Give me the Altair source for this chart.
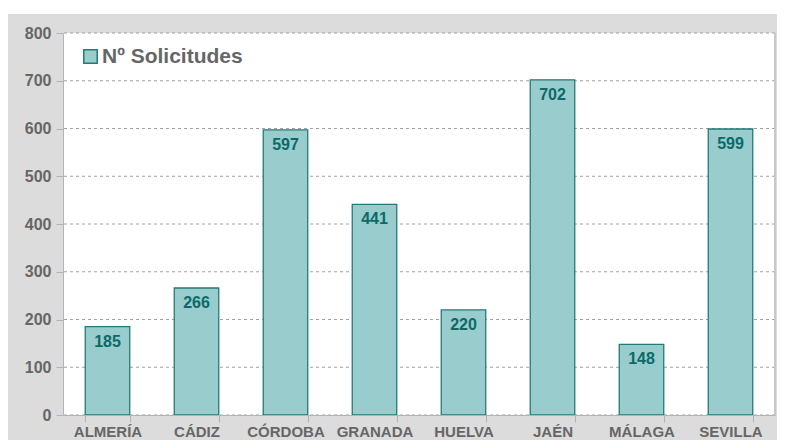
import altair as alt
import pandas as pd

provinces = ["ALMERÍA", "CÁDIZ", "CÓRDOBA", "GRANADA", "HUELVA", "JAÉN", "MÁLAGA", "SEVILLA"]
values = [185, 266, 597, 441, 220, 702, 148, 599]
series_name = "Nº Solicitudes"
y_ticks = [0, 100, 200, 300, 400, 500, 600, 700, 800]

W, H = 712, 382
PAD_L, PAD_T, PAD_R, PAD_B = 55, 25, 2, 25
FONT = "Liberation Sans"
BAR_FILL = "#99cccc"
BAR_STROKE = "#237a77"
LABEL_GRAY = "#666666"

df = pd.DataFrame({"provincia": provinces, "solicitudes": values,
                   "serie": [series_name] * len(provinces)})
grid_df = pd.DataFrame({"v": y_ticks})
one = alt.Data(values=[{"a": 1}])

yscale = alt.Scale(domain=[0, 800], nice=False)
xscale = alt.Scale(paddingInner=0.5, paddingOuter=0.25)

bg = alt.Chart(one).mark_rect(color="#dcdcdc").encode(
    x=alt.value(-PAD_L), x2=alt.value(W + PAD_R), y=alt.value(-19), y2=alt.value(H + PAD_B))
panel = alt.Chart(one).mark_rect(color="white").encode(
    x=alt.value(0), x2=alt.value(W), y=alt.value(0), y2=alt.value(H))
right_edge = alt.Chart(one).mark_rule(color="#c8c8c8", strokeWidth=2).encode(
    x=alt.value(W), y=alt.value(0), y2=alt.value(H))

grid = alt.Chart(grid_df).mark_rule(color="#a0a0a0", strokeDash=[3, 3], strokeWidth=1).encode(
    y=alt.Y("v:Q", scale=yscale, title=None))

x_enc = alt.X("provincia:N", sort=provinces, scale=xscale, title=None,
              axis=alt.Axis(labelAngle=0, labelFontSize=15, labelFontWeight="bold",
                            labelColor=LABEL_GRAY, labelFont=FONT, tickBand="extent",
                            tickSize=7, tickColor="#b3b3b3", domainColor="#b3b3b3",
                            labelPadding=2, labelOverlap=False, labelLimit=200,
                            grid=False, zindex=1))
y_enc = alt.Y("solicitudes:Q", scale=yscale, title=None,
              axis=alt.Axis(values=y_ticks, labelFontSize=16, labelFontWeight="bold",
                            labelColor=LABEL_GRAY, labelFont=FONT, tickSize=7,
                            tickColor="#b3b3b3", domainColor="#b3b3b3", labelPadding=5,
                            grid=False, zindex=1))

bars = alt.Chart(df).mark_bar(stroke=BAR_STROKE, strokeWidth=1.3).encode(
    x=x_enc, y=y_enc,
    color=alt.Color("serie:N", scale=alt.Scale(range=[BAR_FILL]), title=None,
                    legend=alt.Legend(orient="none", legendX=17, legendY=13,
                                      symbolType="square", symbolSize=180,
                                      symbolStrokeColor=BAR_STROKE, symbolStrokeWidth=1.5,
                                      symbolFillColor=BAR_FILL, symbolOpacity=1,
                                      labelFontSize=21, labelFontWeight="bold",
                                      labelColor=LABEL_GRAY, labelFont=FONT,
                                      labelOffset=1, padding=0, zindex=1)))

texts = alt.Chart(df).mark_text(baseline="top", dy=7, fontSize=16, fontWeight="bold",
                                color="#0b6a69", font=FONT).encode(
    x=alt.X("provincia:N", sort=provinces, scale=xscale),
    y=alt.Y("solicitudes:Q", scale=yscale),
    text=alt.Text("solicitudes:Q"))

chart = alt.layer(bg, panel, grid, right_edge, bars, texts).properties(
    width=W, height=H,
    autosize=alt.AutoSizeParams(type="none"),
    padding={"left": PAD_L, "top": PAD_T, "right": PAD_R, "bottom": PAD_B},
    background="white",
).configure_view(stroke=None).configure(font=FONT)

chart.save("out.html", embed_options={"renderer": "svg", "actions": False})
